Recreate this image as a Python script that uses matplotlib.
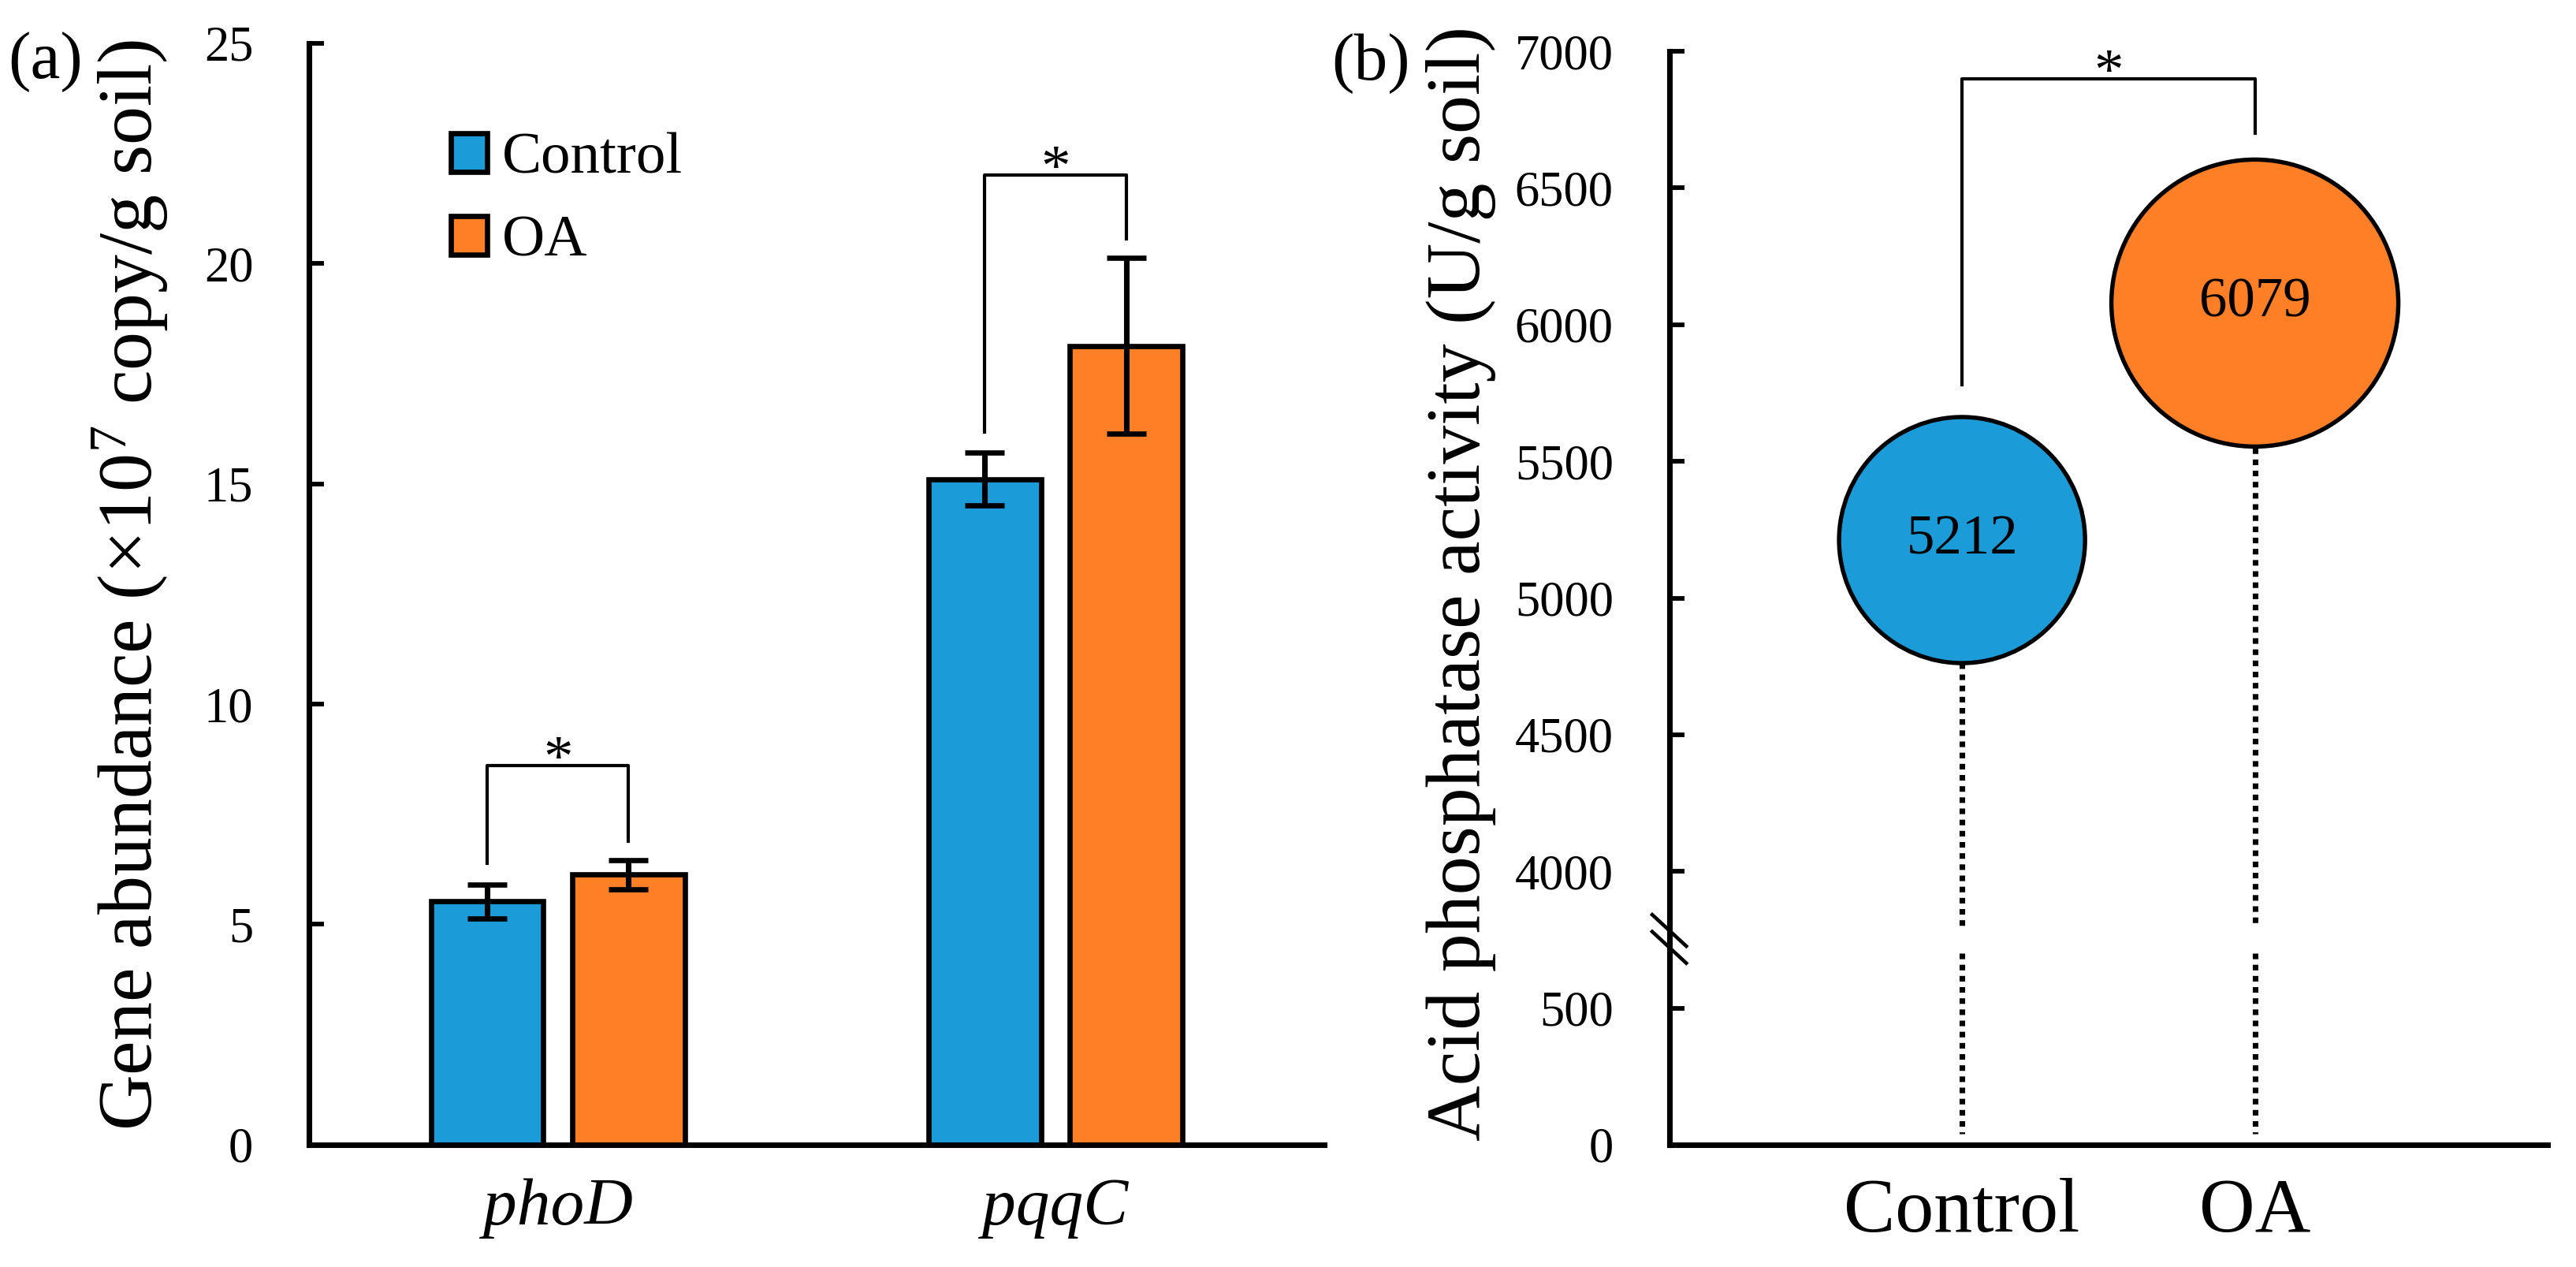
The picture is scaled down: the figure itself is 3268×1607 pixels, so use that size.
import numpy as np
import matplotlib
matplotlib.use("Agg")
import matplotlib.pyplot as plt
from matplotlib.patches import Patch

# Data: gene abundance (x10^7 copy/g soil)
genes = ["phoD", "pqqC"]
groups = ["Control", "OA"]
control_mean = [5.52, 15.10]
control_err = [0.39, 0.60]
oa_mean = [6.13, 18.13]
oa_err = [0.33, 2.00]
gene_sig = ["*", "*"]
gene_bracket_top = [8.6, 22.0]

# Data: acid phosphatase activity (U/g soil)
acp_groups = ["Control", "OA"]
acp_values = [5212, 6079]
acp_sig = "*"
acp_bracket = [5780, 6900, 6700]  # left leg bottom, top, right leg bottom

blue = "#1B9BD7"
orange = "#FF7F27"

plt.rcParams["font.family"] = ["Liberation Serif", "DejaVu Serif"]
plt.rcParams["mathtext.fontset"] = "custom"
plt.rcParams["mathtext.rm"] = "Liberation Serif"
plt.rcParams["mathtext.it"] = "Liberation Serif:italic"

fig = plt.figure(figsize=(3268 / 300, 1607 / 300), dpi=300)
ax1 = fig.add_axes([0.120, 0.0965, 0.394, 0.8695])
ax2 = fig.add_axes([0.648, 0.0965, 0.341, 0.863])

# ---- panel (a): bars ----
x = np.arange(len(genes))
w = 0.226
off = 0.142
bar_kw = dict(edgecolor="black", linewidth=1.6, zorder=2)
err_kw = dict(elinewidth=1.7, capthick=1.6)
ax1.bar(x - off, control_mean, w, color=blue, yerr=control_err, capsize=6,
        error_kw=err_kw, **bar_kw)
ax1.bar(x + off, oa_mean, w, color=orange, yerr=oa_err, capsize=6,
        error_kw=err_kw, **bar_kw)

# significance brackets
for i in range(len(genes)):
    left = control_mean[i] + control_err[i] + 0.47
    right = oa_mean[i] + oa_err[i] + 0.42
    top = gene_bracket_top[i]
    ax1.plot([x[i] - off, x[i] - off, x[i] + off, x[i] + off],
             [left, top, top, right], color="black", lw=1.0)
    ax1.annotate(gene_sig[i], (x[i], top), xytext=(0, -7), textcoords="offset points",
                 ha="center", va="bottom", fontsize=18)

ax1.set_xlim(-0.5, 1.54)
ax1.set_ylim(0, 25)
ax1.set_yticks(range(0, 26, 5))
ax1.set_xticks(x)
ax1.set_xticklabels(genes, fontstyle="italic", fontsize=20.5)
ax1.set_ylabel(r"Gene abundance (×10$^{7}$ copy/g soil)", fontsize=23.5)
ax1.yaxis.set_label_coords(-0.137, 0.508)

handles = [Patch(facecolor=blue, edgecolor="black", linewidth=1.6),
           Patch(facecolor=orange, edgecolor="black", linewidth=1.6)]
ax1.legend(handles, groups, loc="upper left", bbox_to_anchor=(0.116, 0.94),
           frameon=False, fontsize=18, handlelength=0.62, handleheight=0.62,
           handletextpad=0.25, labelspacing=0.5, borderaxespad=0)

# ---- panel (b): bubbles on broken axis ----
def fwd(v):
    v = np.asarray(v, dtype=float)
    return np.where(v <= 500, v / 500,
                    np.where(v < 4000, 1 + (v - 500) / 3500, 2 + (v - 4000) / 500))


def inv(p):
    p = np.asarray(p, dtype=float)
    return np.where(p <= 1, p * 500,
                    np.where(p < 2, 500 + (p - 1) * 3500, 4000 + (p - 2) * 500))


ax2.set_yscale("function", functions=(fwd, inv))
ax2.set_ylim(0, 7000)
ax2.set_xlim(0, 3)
bx = np.arange(1, len(acp_groups) + 1)

# dotted drop lines, interrupted at the axis break
for xi, v in zip(bx, acp_values):
    ax2.plot([xi, xi], [v, 2600], color="black", lw=1.7, ls=(0, (1, 1)), zorder=1)
    ax2.plot([xi, xi], [1900, 40], color="black", lw=1.7, ls=(0, (1, 1)), zorder=1)

sizes = [(v * 0.01437) ** 2 for v in acp_values]
ax2.scatter(bx, acp_values, s=sizes, c=[blue, orange], edgecolors="black",
            linewidths=1.3, zorder=3)
for xi, v in zip(bx, acp_values):
    ax2.text(xi, v, str(v), ha="center", va="center", fontsize=17, zorder=4)

ax2.plot([bx[0], bx[0], bx[1], bx[1]],
         [acp_bracket[0], acp_bracket[1], acp_bracket[1], acp_bracket[2]],
         color="black", lw=1.0)
ax2.annotate(acp_sig, (bx.mean(), acp_bracket[1]), xytext=(0, -7),
             textcoords="offset points", ha="center", va="bottom", fontsize=18)

ax2.set_yticks([0, 500, 4000, 4500, 5000, 5500, 6000, 6500, 7000])
ax2.set_yticklabels(["0", "500", "4000", "4500", "5000", "5500", "6000", "6500", "7000"])
ax2.set_xticks(bx)
ax2.set_xticklabels(acp_groups, fontsize=23.5)
ax2.set_ylabel("Acid phosphatase activity (U/g soil)", fontsize=23.5)
ax2.yaxis.set_label_coords(-0.197, 0.513)

# break marks on the y axis
for yb in (0.196, 0.1805):
    ax2.plot([-0.0194, 0.0194], [yb + 0.0144, yb - 0.0144], transform=ax2.transAxes,
             color="black", lw=1.1, clip_on=False, zorder=5)

for ax in (ax1, ax2):
    for s in ("top", "right"):
        ax.spines[s].set_visible(False)
    for s in ("left", "bottom"):
        ax.spines[s].set_linewidth(1.7)
    ax.tick_params(axis="y", direction="in", length=4.6, width=1.4, pad=17,
                   labelsize=15)
    ax.tick_params(axis="x", length=0, pad=10)
    ax.minorticks_off()

fig.text(0.003, 0.951, "(a)", fontsize=20.5, ha="left", va="center")
fig.text(0.517, 0.950, "(b)", fontsize=20.5, ha="left", va="center")

fig.savefig("out.png", dpi=300)
